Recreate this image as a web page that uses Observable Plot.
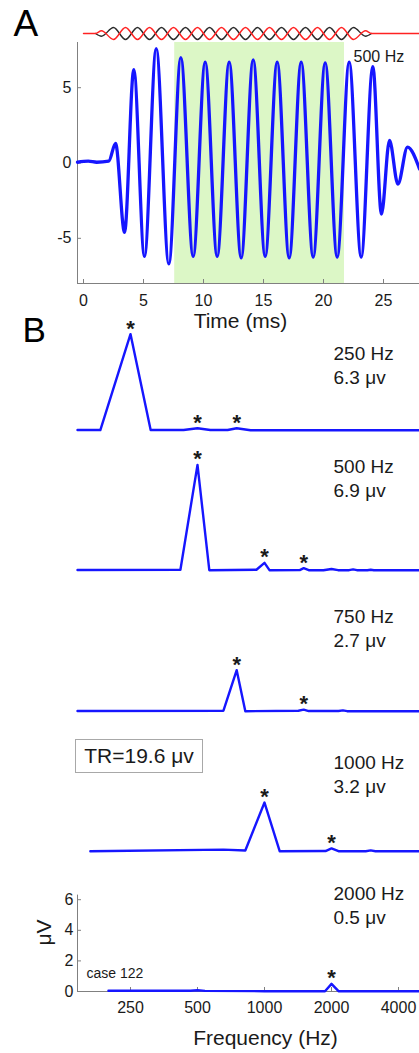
<!DOCTYPE html>
<html>
<head>
<meta charset="utf-8">
<script src="https://cdn.jsdelivr.net/npm/d3@7"></script>
<script src="https://cdn.jsdelivr.net/npm/@observablehq/plot@0.6"></script>
<style>
  body { margin: 0; background: #fff; }
  #wrap { position: relative; width: 419px; height: 1053px; overflow: hidden; background: #fff;
          font-family: "Liberation Sans", Arial, Helvetica, sans-serif; color: #1a1a1a; }
  #wrap svg { position: absolute; left: 0; background: transparent !important; overflow: visible; }
  #tr { position: absolute; left: 75px; top: 739px; width: 126px; height: 32px; border: 1px solid #a8a8a8;
        background: #fff; font-size: 21px; line-height: 32px; text-align: center; color: #1a1a1a; }
</style>
</head>
<body>
<div id="wrap"></div>
<script>
// ---------------- DATA ----------------
const waveTime = [-0.5, 0.4, 1.1, 2.1, 2.67, 3.42, 4.19, 5.08, 6.06, 7.11, 8.11, 9.14, 10.14, 11.14, 12.14, 13.14,
                  14.14, 15.14, 16.14, 17.14, 18.14, 19.14, 20.14, 21.14, 22.14, 23.14, 24.11, 24.83, 25.5, 26.2, 27.0, 28.0];
const waveAmp  = [0.05, 0.12, 0.05, 0.12, 1.3, -4.6, 6.2, -6.2, 7.6, -6.7, 7.0, -6.2, 6.7, -6.2, 6.7, -6.3,
                  6.85, -6.2, 6.7, -6.3, 6.7, -6.25, 6.65, -6.25, 6.7, -6.25, 6.4, -3.4, 1.5, -1.4, 1.05, -0.4];
const analysisWindow = [7.6, 21.75];
const timeTicks = [0, 5, 10, 15, 20, 25];
const ampTicks = [-5, 0, 5];
const stimLabel = "500 Hz";
const timeLabel = "Time (ms)";

// Panel A: stimulus (two opposite polarities), extrema in ms
const stimTime = [0, 1.0, 1.5, 2.5, 3.5, 4.5, 5.5, 6.5, 7.5, 8.5, 9.5, 10.5, 11.5, 12.5, 13.5, 14.5,
                  15.5, 16.5, 17.5, 18.5, 19.5, 20.5, 21.5, 22.5, 23.5, 24.0, 28.0];
const stimRed  = [0, 0, 0.45, -1, 1, -1, 1, -1, 1, -1, 1, -1, 1, -1, 1, -1,
                  1, -1, 1, -1, 1, -1, 1, -1, 0.45, 0, 0];
const toneTime = [1.0, 1.5, 2.5, 3.5, 4.5, 5.5, 6.5, 7.5, 8.5, 9.5, 10.5, 11.5, 12.5, 13.5, 14.5,
                  15.5, 16.5, 17.5, 18.5, 19.5, 20.5, 21.5, 22.5, 23.5, 24.0];
const toneBlack = [0, -0.45, 1, -1, 1, -1, 1, -1, 1, -1, 1, -1, 1, -1, 1,
                   -1, 1, -1, 1, -1, 1, -1, 1, -0.45, 0];

// Panel B: spectra (frequency in Hz, amplitude in µV)
const freqTicks = [250, 500, 1000, 2000, 4000];
const uvTicks = [0, 2, 4, 6];
const freqLabel = "Frequency (Hz)";
const uvLabel = "μV";
const caseLabel = "case 122";
const trLabel = "TR=19.6 μv";

const stimNames = ["250 Hz", "500 Hz", "750 Hz", "1000 Hz", "2000 Hz"];
const peakLabels = ["6.3 μv", "6.9 μv", "2.7 μv", "3.2 μv", "0.5 μv"];

const f250 = [144.5, 183, 250, 308, 433, 500, 571, 683, 750, 866, 1000, 2000, 4970];
const v250 = [0.03, 0.03, 6.3, 0.03, 0.03, 0.15, 0.03, 0.03, 0.15, 0.02, 0.02, 0.02, 0.02];
const s250f = [250, 500, 750];
const s250v = [6.3, 0.15, 0.15];

const f500 = [144.5, 419, 500, 565, 920, 1000, 1053, 1440, 1500, 1580, 1840, 2000, 2140, 2400, 2500, 2600, 2900, 3000, 3100, 4970];
const v500 = [0.03, 0.05, 6.9, 0.02, 0.05, 0.5, 0.02, 0.03, 0.15, 0.02, 0.02, 0.1, 0.02, 0.02, 0.07, 0.02, 0.02, 0.05, 0.02, 0.02];
const s500f = [500, 1000, 1500];
const s500v = [6.9, 0.5, 0.15];

const f750 = [144.5, 654, 750, 820, 1420, 1500, 1580, 2150, 2250, 2350, 4970];
const v750 = [0.03, 0.05, 2.7, 0.02, 0.05, 0.12, 0.03, 0.03, 0.07, 0.02, 0.02];
const s750f = [750, 1500];
const s750v = [2.7, 0.12];

const f1000 = [165, 654, 820, 1000, 1170, 1880, 2000, 2150, 2850, 3000, 3150, 4970];
const v1000 = [0.02, 0.12, 0.07, 3.2, 0.02, 0.03, 0.2, 0.02, 0.02, 0.07, 0.02, 0.02];
const s1000f = [1000, 2000];
const s1000v = [3.2, 0.2];

const f2000 = [199, 465, 500, 540, 1000, 1870, 2000, 2150, 4970];
const v2000 = [0.05, 0.05, 0.08, 0.04, 0.02, 0.02, 0.5, 0.02, 0.02];
const s2000f = [2000];
const s2000v = [0.5];

// ---------------- RENDER ----------------
const W = 419;
const ink = "#1a1a1a";
const axisGray = "#808080";
const blue = "#1616ff";
const font = "'Liberation Sans', Arial, Helvetica, sans-serif";
const baseStyle = {fontFamily: font, fontSize: "16px", color: ink, background: "transparent", overflow: "visible"};
const wrap = document.getElementById("wrap");
function place(svg, top) {
  svg.style.position = "absolute";
  svg.style.left = "0px";
  svg.style.top = top + "px";
  wrap.appendChild(svg);
}
const signed = d => (d < 0 ? "-" + Math.abs(d) : String(d));
const zip = (xs, ys) => xs.map((x, i) => ({x, y: ys[i]}));

// stimulus strip
place(Plot.plot({
  width: W, height: 20, marginLeft: 77, marginRight: 0, marginTop: 0, marginBottom: 0,
  x: {domain: [-0.5, 28], axis: null},
  y: {domain: [-1.67, 1.67], axis: null},
  style: baseStyle,
  marks: [
    Plot.line(zip(toneTime, toneBlack), {x: "x", y: "y", stroke: "#2b2b2b", strokeWidth: 1.4, curve: "monotone-x"}),
    Plot.line(zip(stimTime, stimRed), {x: "x", y: "y", stroke: "#ff2222", strokeWidth: 1.4, curve: "monotone-x"})
  ]
}), 23);

// panel A
place(Plot.plot({
  width: W, height: 340, marginLeft: 77, marginRight: 0, marginTop: 42, marginBottom: 57,
  x: {domain: [-0.5, 28], ticks: timeTicks, tickSize: 0, tickPadding: 11, label: null},
  y: {domain: [-8, 8], ticks: ampTicks, tickSize: 0, tickPadding: 6, label: null, tickFormat: signed},
  style: baseStyle,
  marks: [
    Plot.rect([analysisWindow], {x1: d => d[0], x2: d => d[1], fill: "#dcf7c6"}),
    Plot.ruleX([-0.5], {stroke: axisGray}),
    Plot.ruleY([-8], {stroke: axisGray}),
    Plot.tickX(timeTicks, {x: d => d, stroke: axisGray, insetTop: 237}),
    Plot.tickY(ampTicks, {y: d => d, stroke: axisGray, insetRight: 338}),
    Plot.line(zip(waveTime, waveAmp), {x: "x", y: "y", stroke: blue, strokeWidth: 3.3, curve: "monotone-x"}),
    Plot.text([stimLabel], {frameAnchor: "top-left", textAnchor: "start", lineAnchor: "top", dx: 276, dy: 8, fontSize: 16, fill: ink}),
    Plot.text(["A"], {frameAnchor: "top-left", textAnchor: "start", lineAnchor: "bottom", dx: -64, dy: -7, fontSize: 37, fill: "#000"}),
    Plot.text([timeLabel], {frameAnchor: "bottom", lineAnchor: "middle", dx: -8, dy: 38, fontSize: 21, fill: ink})
  ]
}), 0);

// panel B
const spectra = [
  {f: f250, v: v250, sf: s250f, sv: s250v},
  {f: f500, v: v500, sf: s500f, sv: s500v},
  {f: f750, v: v750, sf: s750f, sv: s750v},
  {f: f1000, v: v1000, sf: s1000f, sv: s1000v},
  {f: f2000, v: v2000, sf: s2000f, sv: s2000v}
];
const freqDomain = [144.5, 4970];
const baselines = [430, 570, 711, 851, 991];
const labelTops = [53, 26, 35, 41, 32];
const panelH = 140;
const uvMax = panelH / 15.3;

spectra.forEach((s, i) => {
  const last = i === spectra.length - 1;
  const marks = [];
  if (last) {
    marks.push(
      Plot.ruleX([freqDomain[0]], {y1: 0, y2: 6.3, stroke: axisGray}),
      Plot.ruleY([0], {stroke: axisGray}),
      Plot.tickX(freqTicks, {x: d => d, stroke: axisGray, insetTop: panelH - 4}),
      Plot.tickY(uvTicks, {y: d => d, stroke: axisGray, insetRight: W - 77 - 4}),
      Plot.text([uvLabel], {frameAnchor: "left", rotate: -90, lineAnchor: "middle", dx: -33, dy: 24, fontSize: 21, fill: ink}),
      Plot.text([caseLabel], {frameAnchor: "bottom-left", textAnchor: "start", lineAnchor: "middle", dx: 9, dy: -18, fontSize: 14, fill: ink}),
      Plot.text([freqLabel], {frameAnchor: "bottom", lineAnchor: "middle", dx: 17, dy: 47, fontSize: 21, fill: ink})
    );
  }
  if (i === 0) {
    marks.push(Plot.text(["B"], {frameAnchor: "top-left", textAnchor: "start", lineAnchor: "bottom", dx: -55, dy: 51, fontSize: 35, fill: "#000"}));
  }
  marks.push(
    Plot.line(zip(s.f, s.v), {x: "x", y: "y", stroke: blue, strokeWidth: 2.4}),
    Plot.text(zip(s.sf, s.sv), {x: "x", y: "y", text: () => "*", fontSize: 22, fontWeight: "bold", lineAnchor: "bottom", dy: 1.5, fill: ink}),
    Plot.text([stimNames[i] + "\n" + peakLabels[i]], {frameAnchor: "top-left", textAnchor: "start", lineAnchor: "top",
      dx: 256, dy: labelTops[i], fontSize: 19, lineHeight: 1.25, fill: ink})
  );
  place(Plot.plot({
    width: W, height: panelH + (last ? 62 : 0),
    marginLeft: 77, marginRight: 0, marginTop: 0, marginBottom: last ? 62 : 0,
    x: last ? {type: "log", domain: freqDomain, ticks: freqTicks, tickFormat: d => String(d), tickSize: 0, tickPadding: 10, label: null}
            : {type: "log", domain: freqDomain, axis: null},
    y: last ? {domain: [0, uvMax], ticks: uvTicks, tickSize: 0, tickPadding: 4, label: null}
            : {domain: [0, uvMax], axis: null},
    style: baseStyle,
    marks
  }), baselines[i] - panelH);
});

const tr = document.createElement("div");
tr.id = "tr";
tr.textContent = trLabel;
wrap.appendChild(tr);
</script>
</body>
</html>
